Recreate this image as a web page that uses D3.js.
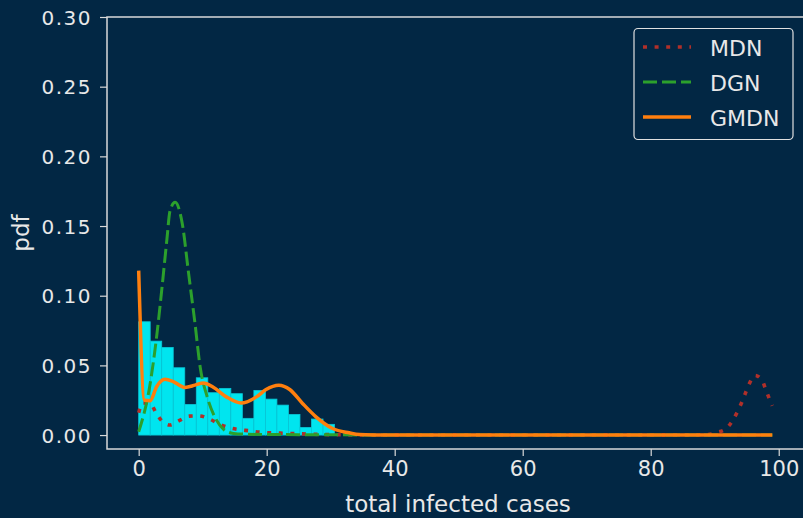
<!DOCTYPE html>
<html><head><meta charset="utf-8">
<script src="https://cdn.jsdelivr.net/npm/d3@7"></script>
<style>
html,body{margin:0;padding:0;background:#022744;}
svg{display:block;}
text{font-family:"DejaVu Sans",sans-serif;fill:#e8e8e8;}
</style></head><body>
<svg id="c" width="803" height="518"></svg>
<script>
// ---- data ----
const histBinWidth = 1.8;
const histValues = [0.0813, 0.0674, 0.0629, 0.0483, 0.022, 0.0411, 0.0304, 0.0335, 0.0297, 0.012, 0.032, 0.0258, 0.0215, 0.0148, 0.0055, 0.0115, 0.0077];

const mdnX = [0, 0.6, 1.8, 2.7, 3.6, 4.9, 6.3, 7.9, 9.4, 11.0, 12.4, 14.0, 15.6, 17.2, 18.9, 20.5, 22.1, 25, 28, 32, 40, 85, 89, 90.2, 91.7, 92.7, 93.5, 94.2, 94.8, 95.4, 96.3, 97.4, 98.0, 98.6, 99];
const mdnY = [0.016, 0.023, 0.0227, 0.016, 0.0103, 0.0072, 0.0103, 0.0136, 0.0138, 0.0117, 0.0083, 0.0055, 0.004, 0.0031, 0.0021, 0.0016, 0.0014, 0.0009, 0.0005, 0.0002, 0, 0, 0.0004, 0.0017, 0.0043, 0.0098, 0.0163, 0.0232, 0.0301, 0.0368, 0.0428, 0.0392, 0.0323, 0.0253, 0.021];

const dgnX = [0, 1.8, 2.8, 3.6, 4.4, 4.9, 5.7, 6.8, 7.8, 8.8, 9.6, 10.7, 12.0, 13.3, 14.8, 17, 20, 25, 30, 35, 40, 99];
const dgnY = [0.0024, 0.037, 0.0705, 0.104, 0.14, 0.161, 0.167, 0.152, 0.116, 0.080, 0.049, 0.0275, 0.012, 0.004, 0.0012, 0.0006, 0.0004, 0.0003, 0.0002, 0.0001, 0, 0];

const gmdnX = [0, 0.9, 1.8, 2.8, 4.1, 5.4, 7.2, 8.8, 10.1, 11.6, 13.7, 16.0, 18.4, 19.9, 21.9, 23.6, 25.6, 27.7, 30.3, 32.9, 34.5, 37, 40, 99];
const gmdnY = [0.118, 0.025, 0.0247, 0.0347, 0.040, 0.0384, 0.0342, 0.0358, 0.0374, 0.0345, 0.0274, 0.023, 0.0274, 0.0327, 0.0358, 0.0327, 0.0227, 0.0131, 0.0047, 0.0016, 0.0004, 0.0001, 0, 0];

const xTicks = [0, 20, 40, 60, 80, 100];
const yTicks = [0.00, 0.05, 0.10, 0.15, 0.20, 0.25, 0.30];
const seriesNames = ["MDN", "DGN", "GMDN"];

// ---- layout ----
const svg = d3.select("#c");
const L = 107, R = 804, T = 17, B = 449;
const x = d3.scaleLinear().domain([-4.95, 103.95]).range([L, R]);
const y = d3.scaleLinear().domain([-0.01, 0.30]).range([B, T]);

const axisColor = "#d9d9d9";

// histogram
svg.append("g").selectAll("rect").data(histValues).join("rect")
  .attr("x", (d, i) => x(i * histBinWidth))
  .attr("width", (d, i) => x((i + 1) * histBinWidth) - x(i * histBinWidth))
  .attr("y", d => y(d))
  .attr("height", d => y(0) - y(d))
  .attr("fill", "#00e5ef")
  .attr("stroke", "#08c6d6")
  .attr("stroke-width", 0.8);

const line = d3.line().x(d => x(d[0])).y(d => y(d[1])).curve(d3.curveMonotoneX);
const styles = [
  {name: seriesNames[0], xs: mdnX, ys: mdnY, color: "#b0302a", dash: "4,7.6", w: 3.6},
  {name: seriesNames[1], xs: dgnX, ys: dgnY, color: "#2ca02c", dash: "14,5", w: 3},
  {name: seriesNames[2], xs: gmdnX, ys: gmdnY, color: "#ff7f0e", dash: null, w: 3.5}
];
styles.forEach(s => {
  svg.append("path")
    .datum(s.xs.map((v, i) => [v, s.ys[i]]))
    .attr("d", line)
    .attr("fill", "none")
    .attr("stroke", s.color)
    .attr("stroke-width", s.w)
    .attr("stroke-dasharray", s.dash);
});

// axes
const xAxis = svg.append("g").attr("transform", `translate(0,${B})`)
  .call(d3.axisBottom(x).tickValues(xTicks).tickFormat(d3.format("d")).tickSize(7).tickPadding(5));
const yAxis = svg.append("g").attr("transform", `translate(${L},0)`)
  .call(d3.axisLeft(y).tickValues(yTicks).tickFormat(d3.format(".2f")).tickSize(7).tickPadding(8));
[xAxis, yAxis].forEach(g => {
  g.select(".domain").remove();
  g.selectAll("line").attr("stroke", axisColor).attr("stroke-width", 1.2);
  g.selectAll("text").attr("fill", "#e8e8e8").style("font-size", "20px")
    .style("font-family", "DejaVu Sans, sans-serif");
});
xAxis.selectAll("text").style("font-size", "21px");
yAxis.selectAll("text").style("letter-spacing", "1.5px").attr("dy", "0.36em");

// spines
svg.append("rect").attr("x", L).attr("y", T).attr("width", R - L).attr("height", B - T)
  .attr("fill", "none").attr("stroke", axisColor).attr("stroke-width", 1.5);

// labels
svg.append("text").attr("x", 458).attr("y", 512).attr("text-anchor", "middle")
  .style("font-size", "23px").text("total infected cases");
svg.append("text").attr("transform", "translate(29,233) rotate(-90)").attr("text-anchor", "middle")
  .style("font-size", "23px").text("pdf");

// legend
const lg = svg.append("g");
lg.append("rect").attr("x", 634).attr("y", 28.5).attr("width", 159).attr("height", 111)
  .attr("rx", 4).attr("fill", "#022744").attr("stroke", "#e0e0e0").attr("stroke-width", 1.2);
styles.forEach((s, i) => {
  const yy = 47 + i * 35;
  lg.append("line").attr("x1", 643).attr("x2", 691).attr("y1", yy).attr("y2", yy)
    .attr("stroke", s.color).attr("stroke-width", s.w).attr("stroke-dasharray", s.dash);
  lg.append("text").attr("x", 710).attr("y", yy + 9).style("font-size", "22px").text(s.name);
});
</script></body></html>
